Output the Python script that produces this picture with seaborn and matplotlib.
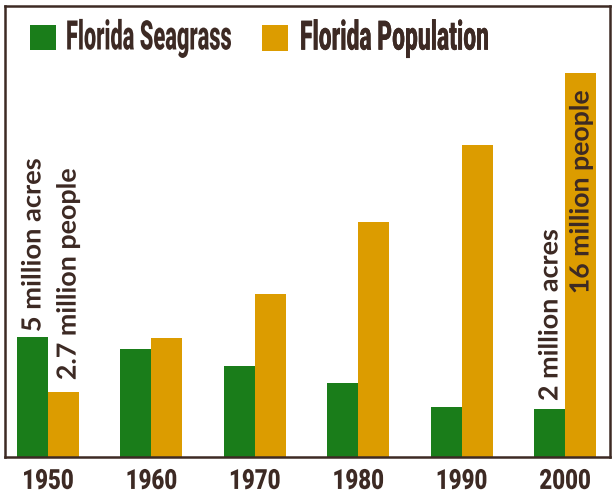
import matplotlib
matplotlib.use("Agg")
import numpy as np
import matplotlib.pyplot as plt
import seaborn as sns
import pandas as pd
from matplotlib.patches import Patch
from matplotlib.patheffects import AbstractPathEffect
from matplotlib.transforms import Affine2D
from matplotlib.textpath import TextPath
from matplotlib.font_manager import FontProperties

years = ["1950", "1960", "1970", "1980", "1990", "2000"]
seagrass = [5.0, 4.5, 3.8, 3.1, 2.1, 2.0]          # million acres
population = [2.7, 4.95, 6.8, 9.8, 13.0, 16.0]     # million people
series = ["Florida Seagrass", "Florida Population"]

GREEN = "#1a7d1a"
ORANGE = "#dc9c00"
INK = "#3d2a24"
DPI = 100
HEAVY = "heavy"


class Squeeze(AbstractPathEffect):
    """Reshape glyphs: condense along the text direction (to an ink width in px or by a
    factor), optionally stretch across it (about the baseline) and shift it (px)."""

    def __init__(self, width=None, sx=1.0, sy=1.0, shift=0.0, anchor="center"):
        super().__init__()
        self.width = width
        self.sx = sx
        self.sy = sy
        self.shift = shift
        self.anchor = anchor

    def draw_path(self, renderer, gc, tpath, affine, rgbFace=None):
        v = tpath.vertices
        if len(v) == 0:
            renderer.draw_path(gc, tpath, affine, rgbFace)
            return
        x0, x1 = v[:, 0].min(), v[:, 0].max()
        m = affine.get_matrix()
        scale = np.hypot(m[0, 0], m[1, 0])
        if self.width is not None:
            sx = self.width * renderer.points_to_pixels(72.0) / DPI / max((x1 - x0) * scale, 1e-9)
        else:
            sx = self.sx
        c = {"left": x0, "right": x1}.get(self.anchor, (x0 + x1) / 2)
        pre = (Affine2D().translate(-c, 0).scale(sx, self.sy)
               .translate(c, self.shift / scale))
        renderer.draw_path(gc, tpath, pre + affine, rgbFace)


def ink_extent(s, prop, size=100.0):
    v = TextPath((0, 0), s, size=size, prop=prop).vertices
    return v[:, 0].max() - v[:, 0].min(), v[:, 1].max() - v[:, 1].min()


df = pd.DataFrame({
    "year": years * 2,
    "value": seagrass + population,
    "series": [series[0]] * len(years) + [series[1]] * len(years),
})

sns.set_theme(style="white")
fig = plt.figure(figsize=(6.14, 4.92), dpi=DPI)
ax = fig.add_axes([5 / 614, 35 / 492, 605 / 614, 451 / 492])

sns.barplot(data=df, x="year", y="value", hue="series", hue_order=series,
            palette=[GREEN, ORANGE], width=0.6, gap=0, saturation=1,
            errorbar=None, ax=ax, legend=False, linewidth=0)

ax.set_xlim(-0.416, 5.435)
ax.set_ylim(0, 18.79)
ax.set_xlabel("")
ax.set_ylabel("")
ax.set_yticks([])
ax.tick_params(axis="x", length=0, pad=5)
for lbl in ax.get_xticklabels():
    lbl.set_fontfamily("Roboto")
    lbl.set_fontweight(HEAVY)
    lbl.set_fontsize(20)
    lbl.set_color(INK)
    lbl.set_path_effects([Squeeze(sx=0.8, shift=-4.0, anchor="center")])
for sp in ax.spines.values():
    sp.set_visible(True)
    sp.set_color(INK)
    sp.set_linewidth(1.8)

# annotations
ann_kw = dict(rotation=90, color=INK, fontsize=19, fontweight="bold",
              family="Lato", ha="center")
t = ax.text(0 - 0.15, seagrass[0] + 0.2, "5 million acres", va="bottom", **ann_kw)
t.set_path_effects([Squeeze(width=173, anchor="left")])
t = ax.text(0 + 0.19, population[0] + 0.5, "2.7 million people", va="bottom", **ann_kw)
t.set_path_effects([Squeeze(width=211, anchor="left")])
t = ax.text(5 - 0.15, seagrass[5] + 0.33, "2 million acres", va="bottom", **ann_kw)
t.set_path_effects([Squeeze(width=171, anchor="left")])
t = ax.text(5 + 0.15, population[5] - 0.75, "16 million people", va="top", **ann_kw)
t.set_path_effects([Squeeze(width=203, anchor="right")])

# legend: tall condensed lettering -> font size fits the width, glyphs stretched upward
leg_font = FontProperties(family="Roboto", weight=HEAVY)
cap_units = ink_extent("F", leg_font)[1] / 100.0          # cap height in em
CAP_PX = 29.0
SQ_W, SQ_H = 26.0, 31.0
axes_top_px = 492 - 35 - 451


def add_legend_entry(label, color, text_width_px, square_left_px, pad_px):
    w_units = ink_extent(label, leg_font)[0] / 100.0       # ink width in em
    em_px = text_width_px / w_units
    fs = em_px * 72.0 / DPI
    sy = CAP_PX / (cap_units * em_px)
    hh = SQ_H / em_px
    descent = 0.35 * em_px * (hh - 0.7)                    # handle box below baseline
    leg = ax.legend([Patch(facecolor=color, edgecolor="none")], [label],
                    loc="upper left", frameon=False, borderpad=0, borderaxespad=0,
                    handlelength=SQ_W / em_px, handleheight=hh,
                    handletextpad=pad_px / em_px,
                    prop={"family": "Roboto", "weight": HEAVY, "size": fs},
                    labelcolor=INK,
                    bbox_to_anchor=((square_left_px - 5) / 605,
                                    1 - (25 - axes_top_px) / 451))
    for txt in leg.get_texts():
        txt.set_path_effects([Squeeze(sx=1.0, sy=sy, shift=-(descent - 1.0), anchor="left")])
    ax.add_artist(leg)
    return leg


add_legend_entry(series[0], GREEN, 165, 30, 10)
add_legend_entry(series[1], ORANGE, 188, 262, 12)

fig.savefig("out.png", dpi=DPI)
